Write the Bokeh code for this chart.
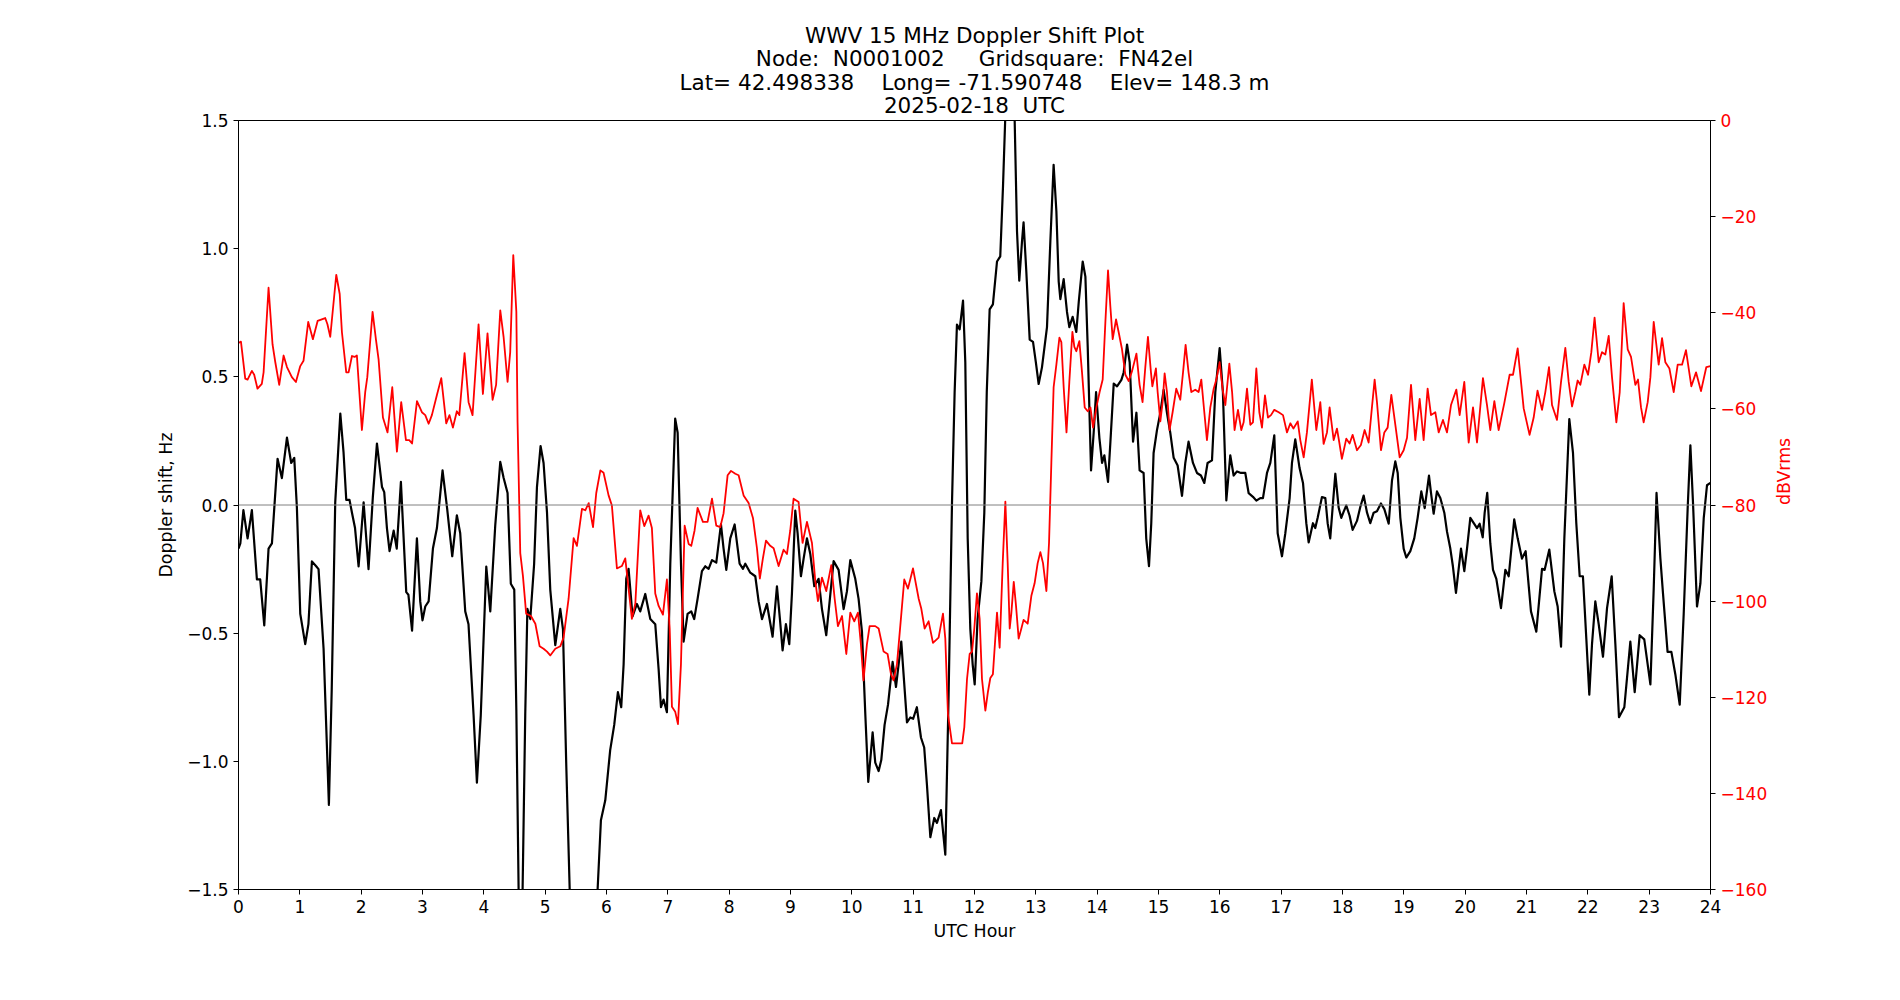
import math
from bokeh.plotting import figure
from bokeh.models import Range1d, LinearAxis, FixedTicker, Span, Title
from bokeh.embed import file_html
from bokeh.resources import INLINE

# ---------------- data ----------------
NB = "\u00a0"
title_lines = [
    "WWV 15 MHz Doppler Shift Plot",
    "Node:" + NB + " N0001002" + NB * 4 + " Gridsquare:" + NB + " FN42el",
    "Lat= 42.498338" + NB * 3 + " Long= -71.590748" + NB * 3 + " Elev= 148.3 m",
    "2025-02-18" + NB + " UTC",
]

hour_ticks = list(range(0, 25))
doppler_ticks = [-1.5, -1.0, -0.5, 0.0, 0.5, 1.0, 1.5]
doppler_tick_labels = ["\u22121.5", "\u22121.0", "\u22120.5", "0.0", "0.5", "1.0", "1.5"]
db_ticks = [-160, -140, -120, -100, -80, -60, -40, -20, 0]
db_tick_labels = ["\u2212160", "\u2212140", "\u2212120", "\u2212100", "\u221280", "\u221260", "\u221240", "\u221220", "0"]

doppler_hour = [
    0.0, 0.03, 0.08, 0.148, 0.218, 0.30, 0.354, 0.42, 0.49, 0.545, 0.637, 0.707, 0.79, 0.86, 0.909,
    0.952, 1.007, 1.088, 1.14, 1.197, 1.27, 1.305, 1.387, 1.474, 1.52, 1.577, 1.66, 1.713, 1.757,
    1.81, 1.85, 1.90, 1.958, 2.04, 2.12, 2.19, 2.257, 2.34, 2.376, 2.42, 2.463, 2.53, 2.58, 2.648,
    2.735, 2.77, 2.83,
    2.909, 2.963, 3.0, 3.045, 3.1, 3.17, 3.235, 3.327, 3.4, 3.485, 3.56, 3.615, 3.697, 3.75, 3.833,
    3.887, 3.95, 4.04, 4.105, 4.186, 4.268, 4.322, 4.387, 4.44, 4.496, 4.53, 4.567, 4.60, 4.632,
    4.675, 4.71, 4.757, 4.82, 4.866, 4.925, 4.974, 5.03, 5.083, 5.165, 5.246, 5.29, 5.344, 5.40,
    5.62, 5.855,
    5.909, 5.98, 6.06, 6.126, 6.186, 6.24, 6.279, 6.322, 6.36, 6.425, 6.496, 6.55, 6.632, 6.714,
    6.795, 6.85, 6.888, 6.93, 6.985, 7.04, 7.12, 7.16, 7.214, 7.257, 7.322, 7.382, 7.43, 7.485,
    7.556, 7.61, 7.665, 7.72, 7.79, 7.866, 7.909, 7.953, 8.018, 8.089, 8.17, 8.225, 8.263, 8.344,
    8.426, 8.48, 8.535, 8.616, 8.708, 8.779,
    8.833, 8.871, 8.925, 8.98, 9.023, 9.078, 9.116, 9.17, 9.214, 9.268, 9.322, 9.388, 9.458,
    9.513, 9.583, 9.638, 9.703, 9.784, 9.866, 9.92, 9.975, 10.056, 10.11, 10.165, 10.22, 10.268,
    10.3, 10.339, 10.382, 10.437, 10.48, 10.534, 10.59, 10.665, 10.72, 10.806, 10.899, 10.953,
    11.0, 11.06, 11.127, 11.18, 11.225, 11.28, 11.344, 11.388, 11.453, 11.524, 11.578, 11.633,
    11.676, 11.714,
    11.758, 11.813, 11.85, 11.889, 11.932, 11.97, 12.003, 12.05, 12.112, 12.16, 12.2, 12.247,
    12.3, 12.367, 12.42, 12.465, 12.5, 12.58, 12.655, 12.693, 12.73, 12.775, 12.8, 12.845, 12.9,
    12.954, 13.0, 13.046, 13.1, 13.182, 13.237, 13.29, 13.335, 13.373, 13.4, 13.454, 13.508,
    13.546, 13.6, 13.66, 13.7, 13.764, 13.808, 13.846, 13.9, 13.943, 13.982, 14.036, 14.08,
    14.117, 14.177, 14.215, 14.27, 14.324, 14.395, 14.433, 14.487, 14.53, 14.585, 14.64,
    14.692, 14.757, 14.8, 14.845, 14.882, 14.92, 14.975, 15.03, 15.084, 15.138, 15.192, 15.247,
    15.312, 15.383, 15.437, 15.49, 15.562, 15.627, 15.692, 15.747, 15.8, 15.872, 15.926, 15.997,
    16.05, 16.106, 16.17, 16.225, 16.28, 16.345, 16.415, 16.47, 16.54, 16.595, 16.66, 16.703,
    16.769, 16.823, 16.888, 16.943, 17.013, 17.068, 17.138, 17.176, 17.23, 17.3, 17.356, 17.41,
    17.448,
    17.518, 17.556, 17.595, 17.665, 17.72, 17.758, 17.8, 17.845, 17.883, 17.937, 17.98, 18.019,
    18.062, 18.116, 18.165, 18.236, 18.29, 18.345, 18.4, 18.453, 18.508, 18.562, 18.627, 18.682,
    18.753, 18.807, 18.861, 18.9, 18.943, 18.997, 19.04, 19.106, 19.17, 19.225, 19.285, 19.34,
    19.41, 19.443, 19.486, 19.54, 19.595, 19.66, 19.704, 19.758, 19.8, 19.85, 19.894, 19.932,
    19.986, 20.03, 20.084, 20.14, 20.193, 20.236, 20.286, 20.318, 20.36, 20.41, 20.454, 20.508,
    20.584, 20.655, 20.71, 20.8, 20.856, 20.926, 20.986, 21.073, 21.16, 21.253, 21.296, 21.372,
    21.454, 21.508, 21.563, 21.617, 21.698, 21.758, 21.812, 21.867, 21.92, 21.976, 22.024,
    22.068, 22.122, 22.177, 22.247, 22.313, 22.389, 22.449, 22.508, 22.595, 22.693, 22.764,
    22.845, 22.92, 23.02, 23.074, 23.12, 23.183, 23.226, 23.3, 23.362, 23.427, 23.498, 23.563,
    23.628, 23.672, 23.715, 23.78, 23.835, 23.89, 23.943, 23.998,
]
doppler_hz = [
    -0.17, -0.15, -0.02, -0.13, -0.02, -0.29, -0.29, -0.47, -0.17, -0.15, 0.18, 0.105, 0.263, 0.164, 0.184,
    -0.01, -0.425, -0.543, -0.465, -0.22, -0.24, -0.25, -0.56, -1.17, -0.72, 0.01, 0.357, 0.204, 0.02,
    0.02, -0.03, -0.09, -0.24, 0.01, -0.25, 0.03, 0.24, 0.07, 0.05, -0.09, -0.18, -0.10, -0.17, 0.09,
    -0.34, -0.35, -0.49,
    -0.13, -0.376, -0.45, -0.396, -0.376, -0.17, -0.09, 0.135, -0.01, -0.2, -0.04, -0.11, -0.415, -0.465, -0.82,
    -1.083, -0.82, -0.24, -0.415, -0.08, 0.168, 0.106, 0.047, -0.307, -0.33, -0.8, -1.5, -1.9, -1.5,
    -0.82, -0.405, -0.445, -0.23, 0.07, 0.23, 0.164, -0.03, -0.33, -0.547, -0.405, -0.484, -1.015, -1.5,
    -2.3, -1.5,
    -1.23, -1.152, -0.956, -0.858, -0.73, -0.789, -0.622, -0.288, -0.249, -0.435, -0.386, -0.415, -0.347, -0.445,
    -0.465, -0.641, -0.789, -0.759, -0.808, -0.229, 0.337, 0.282, -0.229, -0.533, -0.425, -0.415, -0.445, -0.366,
    -0.258, -0.239, -0.249, -0.215, -0.225, -0.076, -0.17, -0.253, -0.13, -0.076, -0.229, -0.249, -0.229, -0.264,
    -0.278, -0.376, -0.445, -0.386, -0.514, -0.317,
    -0.46, -0.567, -0.465, -0.543, -0.347, -0.022, -0.111, -0.278, -0.209, -0.13, -0.19, -0.317, -0.288,
    -0.406, -0.508, -0.376, -0.219, -0.253, -0.406, -0.337, -0.215, -0.288, -0.366, -0.494, -0.818, -1.08,
    -0.995, -0.887, -1.005, -1.038, -0.995, -0.858, -0.779, -0.612, -0.71, -0.533, -0.848, -0.829,
    -0.834, -0.789, -0.907, -0.946, -1.093, -1.296, -1.221, -1.24, -1.19, -1.364, -0.739, 0.008,
    0.44, 0.704,
    0.685, 0.797, 0.557, -0.13, -0.484, -0.622, -0.7, -0.445, -0.298, -0.03, 0.44, 0.763,
    0.783, 0.95, 0.97, 1.245, 1.5, 1.9, 1.5, 1.068, 0.875, 1.03, 1.103, 0.91, 0.645,
    0.636, 0.557, 0.472, 0.537, 0.694, 1.03, 1.327, 1.146, 0.871, 0.803, 0.881, 0.753,
    0.694, 0.734, 0.675, 0.793, 0.95, 0.891, 0.616, 0.135, 0.282, 0.44, 0.262, 0.164,
    0.194, 0.09, 0.243, 0.474, 0.463, 0.488, 0.518, 0.626, 0.557, 0.247, 0.36,
    0.135, 0.125, -0.13, -0.239, -0.071, 0.203, 0.292, 0.36, 0.449, 0.36, 0.282, 0.184,
    0.154, 0.036, 0.164, 0.247, 0.164, 0.125, 0.115, 0.086, 0.164, 0.174, 0.44, 0.612,
    0.44, 0.018, 0.194, 0.115, 0.131, 0.125, 0.125, 0.046, 0.032, 0.017, 0.027, 0.027,
    0.125, 0.164, 0.272, -0.11, -0.2, -0.11, 0.027, 0.164, 0.256, 0.144, 0.086, -0.071,
    -0.146,
    -0.071, -0.09, -0.05, 0.031, 0.027, -0.071, -0.13, 0.008, 0.122, -0.01, -0.05, -0.026,
    -0.002, -0.042, -0.097, -0.062, -0.008, 0.037, -0.03, -0.071, -0.03, -0.024, 0.006, -0.016,
    -0.073, 0.096, 0.17, 0.125, -0.05, -0.17, -0.205, -0.18, -0.13, -0.05, 0.053, -0.012,
    0.115, 0.047, -0.034, 0.053, 0.027, -0.03, -0.104, -0.17, -0.239, -0.343, -0.249, -0.17,
    -0.258, -0.17, -0.05, -0.071, -0.09, -0.073, -0.126, -0.03, 0.047, -0.15, -0.253, -0.288,
    -0.402, -0.253, -0.278, -0.056, -0.13, -0.209, -0.18, -0.415, -0.494, -0.249, -0.253, -0.174,
    -0.337, -0.396, -0.553, -0.13, 0.335, 0.203, -0.071, -0.278, -0.278, -0.524, -0.74,
    -0.543, -0.376, -0.465, -0.592, -0.402, -0.278, -0.543, -0.828, -0.789, -0.533, -0.73,
    -0.508, -0.524, -0.7, -0.327, 0.047, -0.209, -0.347, -0.573, -0.573, -0.661, -0.779, -0.425,
    -0.012, 0.233, 0.008, -0.396, -0.307, -0.05, 0.077, 0.086,
]

power_hour = [
    0.0, 0.04, 0.11, 0.148, 0.218, 0.256, 0.31, 0.38, 0.409, 0.49, 0.555, 0.6, 0.664, 0.735, 0.79,
    0.87, 0.936, 1.007, 1.06, 1.137, 1.213, 1.29, 1.414, 1.45, 1.496, 1.594, 1.65, 1.686, 1.757,
    1.795, 1.85, 1.893, 1.93, 2.012, 2.066, 2.1, 2.186, 2.24, 2.284, 2.355, 2.43, 2.507, 2.583,
    2.653, 2.73, 2.784, 2.83, 2.91,
    2.99, 3.045, 3.1, 3.153, 3.235, 3.306, 3.387, 3.44, 3.496, 3.56, 3.6, 3.686, 3.751, 3.816,
    3.914, 3.985, 4.06, 4.143, 4.2, 4.268, 4.322, 4.387, 4.43, 4.48, 4.53, 4.55, 4.594, 4.637,
    4.69, 4.768, 4.84, 4.91, 4.974, 5.03, 5.083, 5.165, 5.246, 5.3, 5.382, 5.464, 5.518, 5.6,
    5.654, 5.71, 5.78, 5.833,
    5.9, 5.952, 6.034, 6.088, 6.17, 6.25, 6.306, 6.36, 6.414, 6.47, 6.55, 6.616, 6.686, 6.74,
    6.795, 6.85, 6.92, 6.985, 7.03, 7.067, 7.12, 7.165, 7.214, 7.274, 7.339, 7.382, 7.436,
    7.485, 7.572, 7.648, 7.72, 7.79, 7.855, 7.909, 7.975, 8.03, 8.1, 8.154, 8.235, 8.317, 8.388,
    8.453, 8.5, 8.55, 8.6, 8.67, 8.725,
    8.806, 8.887, 8.942, 8.996, 9.05, 9.132, 9.197, 9.268, 9.35, 9.404, 9.447, 9.513, 9.583,
    9.665, 9.72, 9.773, 9.84, 9.91, 9.975, 10.04, 10.1, 10.148, 10.19, 10.246, 10.29, 10.382,
    10.437, 10.518, 10.583, 10.638, 10.68, 10.736, 10.8, 10.855, 10.915, 10.997, 11.09, 11.133,
    11.187, 11.252, 11.323, 11.415, 11.486, 11.524, 11.567, 11.633, 11.714,
    11.8, 11.834, 11.878, 11.921, 11.96, 11.997, 12.04, 12.084, 12.122, 12.177, 12.22, 12.258,
    12.3, 12.367, 12.41, 12.46, 12.503, 12.541, 12.574, 12.6, 12.64, 12.677, 12.72, 12.764, 12.8,
    12.867, 12.927, 12.98, 13.03, 13.074, 13.117, 13.172, 13.215, 13.253, 13.29, 13.335, 13.384,
    13.416, 13.454, 13.5, 13.546, 13.596, 13.628, 13.66, 13.71, 13.753, 13.797, 13.846, 13.89,
    13.933, 13.987, 14.04, 14.09, 14.134, 14.177, 14.215, 14.253, 14.308, 14.35, 14.405, 14.46,
    14.514, 14.57, 14.64,
    14.692, 14.74, 14.785, 14.828, 14.877, 14.9, 14.958, 14.986, 15.03, 15.067, 15.1, 15.138,
    15.18, 15.23, 15.29, 15.355, 15.4, 15.442, 15.49, 15.535, 15.6, 15.654, 15.698, 15.747, 15.79,
    15.845, 15.9, 15.943, 15.997, 16.046, 16.09, 16.155, 16.2, 16.24, 16.296, 16.35, 16.388,
    16.443, 16.497, 16.54, 16.595, 16.644, 16.687, 16.736, 16.785, 16.834, 16.888, 16.96, 17.03,
    17.095, 17.15, 17.2, 17.27, 17.312, 17.367, 17.42, 17.5,
    17.573, 17.638, 17.692, 17.747, 17.79, 17.856, 17.91, 17.948, 17.99, 18.062, 18.116, 18.165,
    18.236, 18.3, 18.361, 18.426, 18.48, 18.524, 18.562, 18.627, 18.682, 18.736, 18.796, 18.861,
    18.932, 18.997, 19.052, 19.117, 19.187, 19.258, 19.323, 19.388, 19.443, 19.513, 19.568,
    19.638, 19.704, 19.769, 19.856, 19.91, 19.986, 20.057, 20.128, 20.193, 20.29, 20.356, 20.41,
    20.476, 20.546,
    20.638, 20.725, 20.78, 20.856, 20.954, 21.05, 21.117, 21.18, 21.253, 21.307, 21.367, 21.416,
    21.497, 21.563, 21.633, 21.688, 21.742, 21.796, 21.834, 21.878, 21.943, 22.003, 22.057,
    22.11, 22.177, 22.231, 22.285, 22.34, 22.394, 22.465, 22.52, 22.584, 22.65, 22.704, 22.775,
    22.818, 22.867, 22.91, 22.976, 23.02, 23.074, 23.155, 23.21, 23.264, 23.33, 23.4, 23.465,
    23.536, 23.6, 23.688, 23.764, 23.845, 23.932, 23.998,
]
power_dbvrms = [
    -46.3, -46.0, -53.7, -53.9, -52.1, -52.9, -55.8, -54.8, -52.4, -34.8, -46.6, -50.3, -55.0, -48.9, -51.3,
    -53.4, -54.4, -51.1, -50.0, -41.9, -45.5, -41.7, -41.1, -42.4, -45.0, -32.1, -36.1, -44.0, -52.4,
    -52.4, -49.0, -49.2, -48.9, -64.4, -56.5, -53.4, -39.8, -45.5, -49.7, -61.8, -64.9, -55.5, -68.9,
    -58.6, -66.5, -66.5, -67.2, -58.4,
    -60.7, -61.3, -63.1, -61.3, -57.1, -53.6, -63.0, -61.3, -63.9, -60.5, -61.3, -48.4, -58.6, -61.3,
    -42.4, -56.9, -44.3, -58.1, -55.0, -39.5, -45.0, -54.4, -48.2, -28.0, -39.8, -62.8, -90.0, -94.7,
    -102.6, -103.1, -104.7, -109.4, -109.9, -110.5, -111.3, -109.9, -109.4, -107.6, -99.5, -86.9, -88.5, -80.8,
    -81.1, -79.6, -84.6, -77.5,
    -72.8, -73.3, -78.0, -80.1, -93.2, -92.7, -91.1, -97.4, -103.7, -100.5, -81.1, -84.4, -82.2, -84.8,
    -98.4, -101.0, -102.8, -95.5, -105.7, -122.0, -123.0, -125.6, -113.1, -84.3, -88.1, -88.5, -85.3,
    -80.6, -83.5, -83.5, -78.7, -84.3, -84.6, -81.7, -73.8, -72.9, -73.5, -73.8, -78.0, -79.6, -82.7,
    -89.0, -95.3, -91.1, -87.4, -88.5, -89.0,
    -92.7, -89.3, -90.2, -85.3, -78.7, -79.4, -87.9, -83.5, -87.9, -95.8, -100.0, -95.1, -97.9,
    -92.5, -99.5, -105.2, -103.1, -111.0, -102.4, -104.2, -102.4, -109.0, -116.5, -109.0, -105.2, -105.2,
    -105.7, -110.5, -111.0, -115.2, -116.5, -113.1, -103.7, -95.5, -97.4, -93.2, -99.5, -101.6,
    -105.7, -104.2, -108.7, -107.6, -102.6, -107.8, -123.5, -129.6, -129.6,
    -129.6, -126.2, -116.2, -111.0, -110.5, -105.7, -98.4, -103.7, -116.2, -122.8, -118.8, -116.0,
    -115.2, -102.4, -109.7, -92.1, -79.3, -92.1, -105.7, -102.6, -96.0, -101.0, -107.8, -105.7, -103.9,
    -104.7, -98.9, -96.3, -92.1, -89.8, -92.1, -97.9, -87.9, -71.2, -55.5, -50.8, -45.2,
    -46.1, -55.5, -64.9, -54.4, -44.0, -47.1, -48.0, -45.9, -52.4, -59.7, -60.5, -59.7,
    -63.9, -59.7, -56.5, -53.9, -41.9, -31.2, -38.7, -45.5, -41.4, -44.0, -47.6, -52.9,
    -54.2, -52.1, -48.5,
    -55.0, -58.6, -51.3, -45.0, -52.4, -55.3, -51.6, -56.5, -62.6, -58.6, -52.6, -56.5,
    -64.4, -60.7, -55.8, -58.1, -52.4, -46.7, -52.4, -56.5, -56.0, -56.5, -53.9, -60.7, -66.5,
    -59.7, -55.8, -53.9, -50.3, -56.0, -59.2, -50.6, -56.5, -64.4, -60.2, -64.4, -62.8,
    -55.8, -63.3, -62.8, -51.6, -60.7, -63.9, -57.2, -61.8, -61.3, -60.2, -60.7, -61.3,
    -64.9, -63.0, -64.1, -62.6, -66.5, -70.1, -64.9, -53.9,
    -64.4, -58.6, -67.3, -64.9, -59.7, -66.5, -64.1, -67.0, -70.4, -66.2, -67.2, -65.4,
    -68.6, -67.5, -64.4, -67.0, -59.7, -53.9, -58.6, -68.6, -64.9, -63.9, -57.1, -63.3,
    -70.1, -68.6, -66.0, -55.0, -66.5, -57.9, -66.5, -55.8, -61.3, -60.7, -64.9,
    -62.3, -64.9, -59.2, -56.0, -61.3, -54.4, -67.0, -59.7, -67.0, -53.6, -59.2, -64.4,
    -58.4, -64.4,
    -58.8, -52.9, -52.9, -47.4, -59.9, -65.4, -61.8, -56.2, -60.2, -56.5, -51.3, -59.2,
    -62.3, -54.4, -47.3, -54.4, -59.5, -56.5, -54.1, -55.0, -50.8, -52.9, -48.2,
    -41.0, -50.3, -48.2, -48.7, -44.8, -53.4, -62.8, -56.5, -38.0, -47.6, -49.2, -55.0,
    -53.9, -59.7, -62.8, -58.6, -53.4, -41.9, -50.8, -45.3, -50.3, -51.6, -56.5, -50.8,
    -50.8, -47.8, -55.3, -52.4, -56.3, -51.3, -51.1,
]

# ---------------- figure ----------------
FONT = "DejaVu Sans"
TICK_FS = "17px"
LABEL_FS = "17.4px"
TITLE_FS = "21.5px"

p = figure(
    width=1900, height=1000,
    x_range=Range1d(0, 24), y_range=Range1d(-1.5, 1.5),
    output_backend="svg", toolbar_location=None,
    min_border_left=238, min_border_right=190, min_border_top=120, min_border_bottom=111,
    background_fill_color="white", border_fill_color="white",
)
p.extra_y_ranges = {"db": Range1d(-160, 0)}
p.xgrid.visible = False
p.ygrid.visible = False
p.outline_line_color = "black"
p.outline_line_width = 1
p.outline_line_alpha = 1

# four-line centred title
p.add_layout(Title(text="\n".join(title_lines), align="center", text_align="center",
                   text_font=FONT, text_font_size=TITLE_FS, text_font_style="normal",
                   text_color="black", text_line_height=0.94, standoff=5), "above")

def style_axis(ax, color="black"):
    ax.axis_line_color = "black"
    ax.major_tick_line_color = "black"
    ax.minor_tick_line_color = None
    ax.major_tick_in = 0
    ax.major_tick_out = 5
    ax.major_label_standoff = 5
    ax.major_label_text_font = FONT
    ax.major_label_text_font_size = TICK_FS
    ax.major_label_text_color = color
    ax.axis_label_text_font = FONT
    ax.axis_label_text_font_size = LABEL_FS
    ax.axis_label_text_font_style = "normal"
    ax.axis_label_text_color = color

xa = p.xaxis[0]
xa.ticker = FixedTicker(ticks=hour_ticks)
xa.major_label_overrides = {float(h): str(h) for h in hour_ticks}
xa.axis_label = "UTC Hour"
style_axis(xa)
xa.axis_label_standoff = 5

ya = p.yaxis[0]
ya.ticker = FixedTicker(ticks=doppler_ticks)
ya.major_label_overrides = {float(v): s for v, s in zip(doppler_ticks, doppler_tick_labels)}
ya.axis_label = "Doppler shift, Hz"
style_axis(ya)
ya.axis_label_standoff = 8

ra = LinearAxis(y_range_name="db", ticker=FixedTicker(ticks=db_ticks))
ra.major_label_overrides = {float(v): s for v, s in zip(db_ticks, db_tick_labels)}
ra.axis_label = "dBVrms"
style_axis(ra, color="red")
ra.axis_label_standoff = 14
try:
    ra.axis_label_orientation = math.pi / 2   # read bottom-to-top like the original
except Exception:
    pass
p.add_layout(ra, "right")

p.add_layout(Span(location=0, dimension="width", line_color="gray", line_width=1))

p.line(doppler_hour, doppler_hz, line_color="black", line_width=2.2, line_join="round")
p.line(power_hour, power_dbvrms, line_color="red", line_width=1.8, line_join="round",
       y_range_name="db")

open("out.html", "w").write(file_html(p, INLINE))
